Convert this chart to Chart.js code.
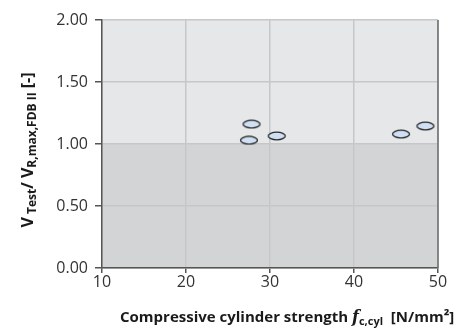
<!DOCTYPE html>
<html>
<head>
<meta charset="utf-8">
<script src="https://cdn.jsdelivr.net/npm/chart.js@4"></script>
<style>
  html, body { margin: 0; padding: 0; background: #fff; }
  #wrap { width: 473px; height: 329px; position: relative; }
</style>
</head>
<body>
<div id="wrap"><canvas id="chart"></canvas></div>
<script>
// data
var strength = [27.8, 27.5, 30.8, 45.6, 48.5];
var ratio = [1.16, 1.03, 1.065, 1.08, 1.145];
var xTicks = [10, 20, 30, 40, 50];
var yTicks = [0, 0.5, 1.0, 1.5, 2.0];
var limitValue = 1.0;

var FONT = "'Open Sans', 'DejaVu Sans', sans-serif";

// ellipse marker
function makeEllipse() {
    var c = document.createElement('canvas');
    c.width = 20; c.height = 10;
    var g = c.getContext('2d');
    g.beginPath();
    g.ellipse(10, 5, 8.5, 3.8, 0, 0, Math.PI * 2);
    g.fillStyle = '#cfe0f4';
    g.fill();
    g.lineWidth = 1.3;
    g.strokeStyle = '#2a2a2a';
    g.stroke();
    return c;
}

// draw a line of mixed text pieces (for subscripts)
function drawPieces(ctx, pieces, x, y, align) {
    var total = 0;
    pieces.forEach(function(p) {
        ctx.font = p.font;
        p.w = ctx.measureText(p.t).width;
        total += p.w;
    });
    var cx = align === 'center' ? x - total / 2 : x;
    pieces.forEach(function(p) {
        ctx.font = p.font;
        ctx.fillText(p.t, cx, y + (p.dy || 0));
        cx += p.w;
    });
}

var backgroundPlugin = {
    id: 'zones',
    beforeDraw: function(chart) {
        var ctx = chart.ctx, a = chart.chartArea;
        var yLim = chart.scales.y.getPixelForValue(limitValue);
        ctx.save();
        ctx.fillStyle = '#e6e7e9';
        ctx.fillRect(a.left, a.top, a.right - a.left, yLim - a.top);
        ctx.fillStyle = '#d3d4d6';
        ctx.fillRect(a.left, yLim, a.right - a.left, a.bottom - yLim);
        ctx.restore();
    },
    afterDraw: function(chart) {
        var ctx = chart.ctx, a = chart.chartArea;
        ctx.save();
        ctx.strokeStyle = '#6b6b6b';
        ctx.lineWidth = 1.5;
        ctx.beginPath();
        ctx.moveTo(a.right, a.top);
        ctx.lineTo(a.right, a.bottom);
        ctx.stroke();

        ctx.fillStyle = '#1a1a1a';
        ctx.textBaseline = 'alphabetic';
        // x title
        drawPieces(ctx, [
            { t: 'Compressive cylinder strength ', font: 'bold 15px ' + FONT },
            { t: 'f', font: 'italic bold 16px "DejaVu Serif", serif' },
            { t: 'c,cyl', font: 'bold 11px ' + FONT, dy: 3 },
            { t: '  [N/mm²]', font: 'bold 15px ' + FONT }
        ], 120, 322, 'left');
        // y title
        ctx.translate(33, 150);
        ctx.rotate(-Math.PI / 2);
        drawPieces(ctx, [
            { t: 'V', font: 'bold 16px ' + FONT },
            { t: ' Test', font: 'bold 12px ' + FONT, dy: 3 },
            { t: '/ V', font: 'bold 16px ' + FONT },
            { t: 'R,max,FDB II', font: 'bold 12px ' + FONT, dy: 3 },
            { t: ' [-]', font: 'bold 16px ' + FONT }
        ], 0, 0, 'center');
        ctx.restore();
    }
};

var ctx = document.getElementById('chart').getContext('2d');
var chart = new Chart(ctx, {
    type: 'scatter',
    data: {
        datasets: [{
            data: strength.map(function(v, i) { return { x: v, y: ratio[i] }; }),
            pointStyle: makeEllipse(),
            pointRadius: 10
        }]
    },
    options: {
        responsive: true,
        maintainAspectRatio: false,
        animation: false,
        layout: { padding: { left: 0, right: 35, top: 20, bottom: 0 } },
        plugins: { legend: { display: false }, tooltip: { enabled: false } },
        scales: {
            x: {
                type: 'linear',
                min: 10, max: 50,
                afterBuildTicks: function(s) { s.ticks = xTicks.map(function(v) { return { value: v }; }); },
                afterFit: function(s) { s.height = 61; },
                grid: { color: '#c6c7c9', lineWidth: 1.5, tickColor: '#555', tickLength: 5 },
                border: { color: '#555', width: 1.5 },
                ticks: { color: '#333', font: { family: FONT, size: 16 }, padding: 0, maxRotation: 0 }
            },
            y: {
                min: 0, max: 2,
                afterBuildTicks: function(s) { s.ticks = yTicks.map(function(v) { return { value: v }; }); },
                afterFit: function(s) { s.width = 102; },
                grid: { color: '#c6c7c9', lineWidth: 1.5, tickColor: '#555', tickLength: 7 },
                border: { color: '#555', width: 1.5 },
                ticks: {
                    color: '#333', font: { family: FONT, size: 16 }, padding: 7,
                    callback: function(v) { return v.toFixed(2); }
                }
            }
        }
    },
    plugins: [backgroundPlugin]
});
</script>
</body>
</html>
